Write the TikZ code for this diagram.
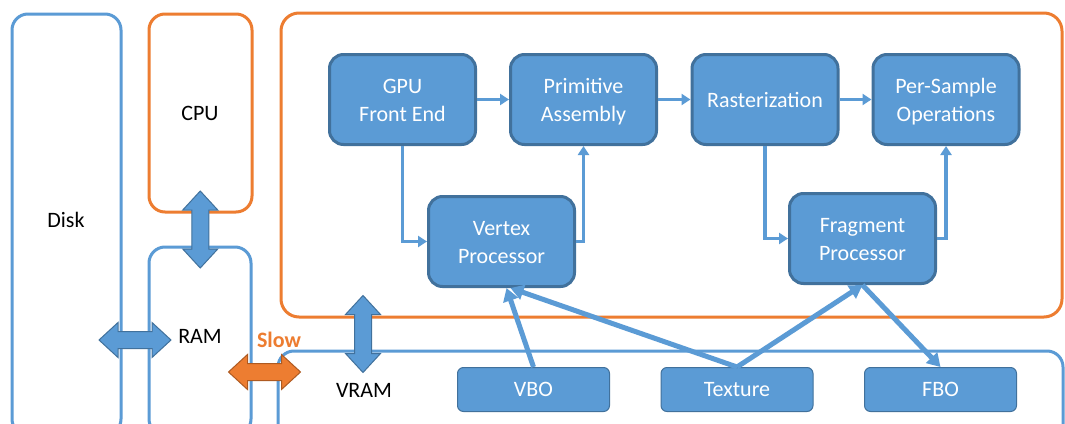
\documentclass[tikz,border=0pt]{standalone}
\usepackage{fontspec}
\setmainfont{Carlito}
\usetikzlibrary{arrows.meta,calc}
\definecolor{officeblue}{HTML}{5B9BD5}
\definecolor{blueedge}{HTML}{41719C}
\definecolor{officeorange}{HTML}{ED7D31}
\definecolor{orangeedge}{HTML}{AE5A21}
\tikzset{
  pics/twoway/.style={code={
    \path[pic actions] (-#1,0) -- (-#1+19,-17.5) -- (-#1+19,-8.5) -- (#1-19,-8.5)
      -- (#1-19,-17.5) -- (#1,0) -- (#1-19,17.5) -- (#1-19,8.5) -- (-#1+19,8.5)
      -- (-#1+19,17.5) -- cycle;}},
}
\begin{document}
\begin{tikzpicture}[x=1pt,y=-1pt,
  font=\fontsize{22}{28}\selectfont,
  container/.style={draw, line width=3pt, rounded corners=16pt, inner sep=0pt},
  hostbox/.style={container, draw=officeblue},
  chipbox/.style={container, draw=officeorange},
  stage/.style={draw=blueedge, fill=officeblue, line width=3pt, rounded corners=14pt,
    minimum width=146pt, minimum height=90pt, text=white, align=center, inner sep=0pt},
  twoline/.style={text height=43pt, text depth=0pt},
  buffer/.style={draw=blueedge, fill=officeblue, line width=1pt, rounded corners=6pt,
    minimum width=152pt, minimum height=44pt, text=white, inner sep=0pt},
  flow/.style={draw=officeblue, line width=3.5pt, -{Triangle[length=9pt,width=11pt]}},
  access/.style={draw=officeblue, line width=5pt, -{Triangle[length=13pt,width=15pt]}},
  bus/.style={fill=officeblue, draw=blueedge, line width=1pt},
  slowbus/.style={fill=officeorange, draw=orangeedge, line width=1pt},
]
\useasboundingbox (0,0) rectangle (1065,423);
\fill[white] (0,0) rectangle (1065,423);
\clip (0,0) rectangle (1065,423);

% host side
\node[hostbox, minimum width=109pt, minimum height=421pt] (disk) at (66.5,224.5) {};
\node[chipbox, minimum width=103pt, minimum height=198pt] (cpu) at (200.5,113) {};
\node[hostbox, minimum width=102pt, minimum height=188pt] (ram) at (200,341) {};
% device side
\node[chipbox, minimum width=781pt, minimum height=304pt, rounded corners=18pt] (gpu) at (671.5,165) {};
\node[hostbox, minimum width=785pt, minimum height=89pt] (vram) at (670.5,395.5) {};

\node (disklabel) at (66,220) {Disk};
\node (cpulabel) at (200,113) {CPU};
\node (ramlabel) at (200,336) {RAM};
\node (vramlabel) at (364,390) {VRAM};
\node[text=officeorange, font=\fontsize{22}{28}\selectfont\bfseries] (slowlabel) at (279,340) {Slow};

% transfers between memories and processors
\pic[bus, rotate=90] at ($(cpu.south)!0.5!(ram.north)$) {twoway=38.5};
\pic[bus] at ($(disk.east |- 0,340)!0.5!(ram.west |- 0,340)$) {twoway=36};
\pic[slowbus] at ($(ram.east |- 0,372)!0.5!(vram.west |- 0,372)$) {twoway=36};
\pic[bus, rotate=90] at ($(gpu.south -| 363,0)!0.5!(vram.north -| 363,0)$) {twoway=38.5};

% pipeline stages
\node[stage, twoline] (gfe) at (402.5,99.5) {GPU\\Front End};
\node[stage, twoline] (pa) at (583.5,99.5) {Primitive\\Assembly};
\node[stage] (rast) at (765,99.5) {Rasterization};
\node[stage, twoline] (ps) at (946,99.5) {Per-Sample\\Operations};
\node[stage, twoline] (vp) at (501.5,241.5) {Vertex\\Processor};
\node[stage, twoline] (fp) at (862.5,238.5) {Fragment\\Processor};

% buffers in video memory
\node[buffer] (vbo) at (533.5,389.5) {VBO};
\node[buffer] (texture) at (737,389.5) {Texture};
\node[buffer] (fbo) at (940.5,389.5) {FBO};

% pipeline flow
\draw[flow] (gfe.east) -- (pa.west);
\draw[flow] (pa.east) -- (rast.west);
\draw[flow] (rast.east) -- (ps.west);
\draw[flow] (gfe.south) |- (vp.west);
\draw[flow] (vp.east) -| (pa.south);
\draw[flow] (rast.south) |- (fp.west);
\draw[flow] (fp.east) -| (ps.south);

% memory accesses
\draw[access] (vbo.north) -- ($(vp.south)+(5,0)$);
\draw[access] (texture.north) -- ($(vp.south)+(9,0)$);
\draw[access] (texture.north) -- (fp.south);
\draw[access] (fp.south) -- (fbo.north);
\end{tikzpicture}
\end{document}
